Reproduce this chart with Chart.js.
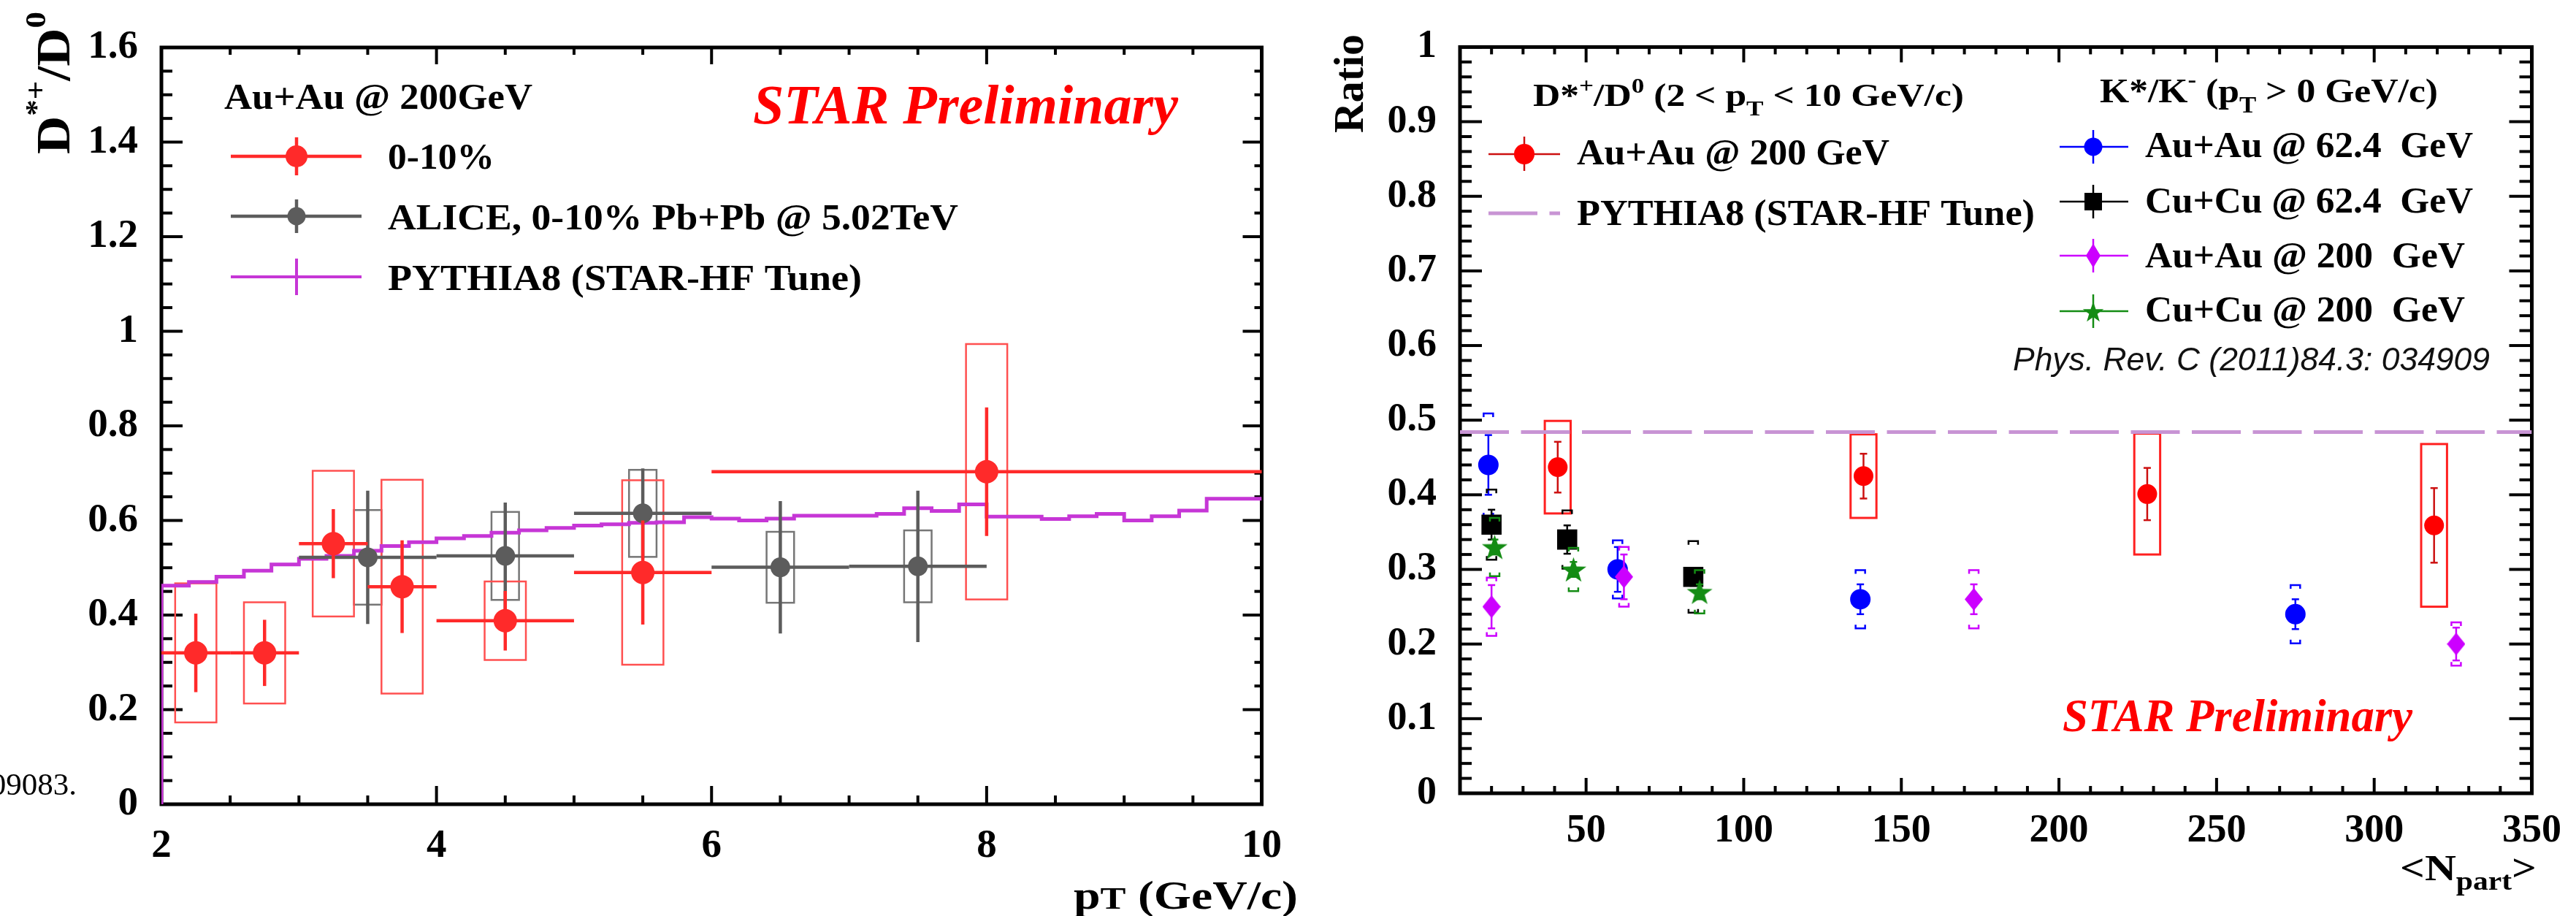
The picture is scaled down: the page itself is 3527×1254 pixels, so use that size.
<!DOCTYPE html>
<html><head><meta charset="utf-8">
<script src="https://cdn.jsdelivr.net/npm/chart.js@4.4.0/dist/chart.umd.min.js"></script>
<style>
html,body{margin:0;padding:0;background:#fff;width:3527px;height:1254px;overflow:hidden}
#left{position:absolute;left:0;top:0}
#right{position:absolute;left:1780px;top:0}
</style></head><body>
<canvas id="left" width="1780" height="1254"></canvas>
<canvas id="right" width="1747" height="1254"></canvas>
<script>
// ================= DATA : left panel (D*+/D0 vs pT) =================
const leftXTicks = [2, 4, 6, 8, 10];
const leftYTicks = [0, 0.2, 0.4, 0.6, 0.8, 1, 1.2, 1.4, 1.6];

const starPt     = [2.25, 2.75, 3.25, 3.75, 4.5, 5.5, 8.0];
const starPtLow  = [2.0, 2.5, 3.0, 3.5, 4.0, 5.0, 6.0];
const starPtHigh = [2.5, 3.0, 3.5, 4.0, 5.0, 6.0, 10.0];
const starRatio  = [0.32, 0.32, 0.551, 0.46, 0.388, 0.49, 0.703];
const starStat   = [0.083, 0.07, 0.073, 0.098, 0.063, 0.11, 0.136];
const starSys    = [0.147, 0.107, 0.154, 0.226, 0.083, 0.195, 0.27];

const alicePt     = [3.5, 4.5, 5.5, 6.5, 7.5];
const alicePtLow  = [3.0, 4.0, 5.0, 6.0, 7.0];
const alicePtHigh = [4.0, 5.0, 6.0, 7.0, 8.0];
const aliceRatio  = [0.522, 0.525, 0.615, 0.501, 0.503];
const aliceStat   = [0.141, 0.113, 0.095, 0.14, 0.16];
const aliceSys    = [0.10, 0.093, 0.092, 0.075, 0.076];

const pythiaBinEdges = [2.0, 2.2, 2.4, 2.6, 2.8, 3.0, 3.2, 3.4, 3.6, 3.8, 4.0, 4.2, 4.4, 4.6, 4.8,
  5.0, 5.2, 5.4, 5.6, 5.8, 6.0, 6.2, 6.4, 6.6, 6.8, 7.0, 7.2, 7.4, 7.6, 7.8, 8.0, 8.2, 8.4, 8.6,
  8.8, 9.0, 9.2, 9.4, 9.6, 9.8, 10.0];
const pythiaRatio = [0.449, 0.462, 0.470, 0.481, 0.494, 0.507, 0.519, 0.525, 0.536, 0.546,
  0.554, 0.562, 0.567, 0.574, 0.579, 0.584, 0.589, 0.592, 0.595, 0.596,
  0.607, 0.604, 0.600, 0.604, 0.610, 0.610, 0.610, 0.614, 0.626, 0.620,
  0.634, 0.608, 0.608, 0.603, 0.609, 0.614, 0.600, 0.609, 0.621, 0.646];

// ================= DATA : right panel (ratio vs <Npart>) =================
const rightXTicks = [50, 100, 150, 200, 250, 300, 350];
const rightYTicks = [0, 0.1, 0.2, 0.3, 0.4, 0.5, 0.6, 0.7, 0.8, 0.9, 1];

const dstarNpart = [41, 138, 228, 319];
const dstarRatio = [0.437, 0.425, 0.401, 0.359];
const dstarStat  = [0.034, 0.030, 0.035, 0.050];
const dstarSys   = [0.062, 0.056, 0.081, 0.109];

const pythiaNpartRange = [10, 350];
const pythiaFlatRatio  = [0.484, 0.484];

const auau62Npart = [19, 60, 137, 275];
const auau62Ratio = [0.44, 0.30, 0.26, 0.24];
const auau62Stat  = [0.04, 0.03, 0.02, 0.02];
const auau62Sys   = [0.069, 0.039, 0.039, 0.039];

const cucu62Npart = [20, 44, 84];
const cucu62Ratio = [0.36, 0.34, 0.29];
const cucu62Stat  = [0.02, 0.019, 0.012];
const cucu62Sys   = [0.047, 0.039, 0.048];

const auau200Npart = [20, 62, 173, 326];
const auau200Ratio = [0.25, 0.29, 0.26, 0.20];
const auau200Stat  = [0.029, 0.03, 0.02, 0.022];
const auau200Sys   = [0.039, 0.04, 0.039, 0.029];

const cucu200Npart = [21, 46, 86];
const cucu200Ratio = [0.33, 0.30, 0.27];
const cucu200Stat  = [0.01, 0.01, 0.01];
const cucu200Sys   = [0.039, 0.029, 0.029];

// ================= STYLE =================
const SERIF = "'Liberation Serif', 'Times New Roman', serif";
const SANS = "'Liberation Sans', Arial, sans-serif";
const RED_L = '#ff2a2a', RED_LBOX = '#ff5050', GRAY = '#5c5c5c', GRAY_BOX = '#767676', MAG_L = '#c636d6';
const RED_R = '#ff0000', RED_RSTAT = '#cc1010', RED_RBOX = '#ff2020';
const BLUE = '#0000ff', BLACK = '#000000', MAGENTA = '#cc00ff', GREEN = '#148c14', PYDASH = '#c894d4';

function rich(ctx, segs, o) {
  const fam = o.family || SERIF, sty = o.style || 'bold';
  ctx.save();
  ctx.translate(o.x, o.y);
  if (o.rot) ctx.rotate(o.rot);
  const widths = []; let total = 0;
  for (const sg of segs) {
    ctx.font = `${sty} ${Math.round(o.size * (sg.s || 1))}px ${fam}`;
    const w = ctx.measureText(sg.t).width; widths.push(w); total += w;
  }
  const sx = o.width ? o.width / total : 1;
  const drawn = total * sx;
  const off = o.align === 'right' ? -drawn : o.align === 'center' ? -drawn / 2 : 0;
  ctx.translate(off, 0); ctx.scale(sx, 1);
  ctx.fillStyle = o.color || '#000'; ctx.textBaseline = 'alphabetic'; ctx.textAlign = 'left';
  let cx = 0;
  segs.forEach((sg, i) => {
    ctx.font = `${sty} ${Math.round(o.size * (sg.s || 1))}px ${fam}`;
    ctx.fillText(sg.t, cx, (sg.dy || 0) * o.size);
    cx += widths[i];
  });
  ctx.restore();
}
function seg(ctx, x1, y1, x2, y2, color, lw, dash) {
  ctx.save(); ctx.strokeStyle = color; ctx.lineWidth = lw; ctx.lineCap = 'butt';
  if (dash) ctx.setLineDash(dash);
  ctx.beginPath(); ctx.moveTo(x1, y1); ctx.lineTo(x2, y2); ctx.stroke(); ctx.restore();
}
function disc(ctx, x, y, r, color) { ctx.fillStyle = color; ctx.beginPath(); ctx.arc(x, y, r, 0, Math.PI * 2); ctx.fill(); }
function starPath(ctx, cx, cy, outer, inner) {
  ctx.beginPath();
  for (let i = 0; i < 10; i++) {
    const r = i % 2 ? inner : outer, a = -Math.PI / 2 + i * Math.PI / 5;
    const px = cx + r * Math.cos(a), py = cy + r * Math.sin(a);
    if (i) ctx.lineTo(px, py); else ctx.moveTo(px, py);
  }
  ctx.closePath();
}
function diamondPath(ctx, cx, cy, w, h) {
  ctx.beginPath(); ctx.moveTo(cx, cy - h / 2); ctx.lineTo(cx + w / 2, cy); ctx.lineTo(cx, cy + h / 2); ctx.lineTo(cx - w / 2, cy); ctx.closePath();
}
function makeStarCanvas(outer, inner, color) {
  const c = document.createElement('canvas'); const s = Math.ceil(outer * 2 + 2); c.width = s; c.height = s;
  const g = c.getContext('2d'); g.fillStyle = color; starPath(g, s / 2, s / 2 + outer * 0.1, outer, inner); g.fill(); return c;
}
function makeDiamondCanvas(w, h, color) {
  const c = document.createElement('canvas'); c.width = w; c.height = h;
  const g = c.getContext('2d'); g.fillStyle = color; diamondPath(g, w / 2, h / 2, w, h); g.fill(); return c;
}
const starImg = makeStarCanvas(18.5, 7.3, GREEN);
const diamondImg = makeDiamondCanvas(25, 31, MAGENTA);

function isMajor(v, m) { return Math.abs(v / m - Math.round(v / m)) < 1e-6; }
function drawFrame(chart, t) {
  const { ctx, chartArea: a } = chart; const x = chart.scales.x, y = chart.scales.y;
  ctx.save(); ctx.strokeStyle = '#000'; ctx.lineWidth = t.tickW;
  const nx = Math.round((x.max - x.min) / t.xMinor);
  for (let k = 0; k <= nx; k++) {
    const v = x.min + k * t.xMinor, px = x.getPixelForValue(v), M = isMajor(v, t.xMajor);
    seg(ctx, px, a.bottom, px, a.bottom - (M ? t.bMaj : t.bMin), '#000', t.tickW);
    seg(ctx, px, a.top, px, a.top + (M ? t.tMaj : t.tMin), '#000', t.tickW);
  }
  const ny = Math.round((y.max - y.min) / t.yMinor);
  for (let k = 0; k <= ny; k++) {
    const v = y.min + k * t.yMinor, py = y.getPixelForValue(v), M = isMajor(v, t.yMajor);
    seg(ctx, a.left, py, a.left + (M ? t.lMaj : t.lMin), py, '#000', t.tickW);
    seg(ctx, a.right, py, a.right - (M ? t.rMaj : t.rMin), py, '#000', t.tickW);
  }
  ctx.lineWidth = t.frameW; ctx.strokeRect(a.left, a.top, a.right - a.left, a.bottom - a.top);
  ctx.restore();
}
function drawBoxes(chart, xs, ys, sys, halfW, color, lw) {
  const { ctx } = chart; const X = chart.scales.x, Y = chart.scales.y;
  ctx.save(); ctx.strokeStyle = color; ctx.lineWidth = lw;
  xs.forEach((xv, i) => {
    const x1 = X.getPixelForValue(xv - halfW), x2 = X.getPixelForValue(xv + halfW);
    const y1 = Y.getPixelForValue(ys[i] + sys[i]), y2 = Y.getPixelForValue(ys[i] - sys[i]);
    ctx.strokeRect(x1, y1, x2 - x1, y2 - y1);
  });
  ctx.restore();
}
function drawXYErr(chart, xs, lo, hi, ys, stat, color, lw) {
  const { ctx } = chart; const X = chart.scales.x, Y = chart.scales.y;
  xs.forEach((xv, i) => {
    const px = X.getPixelForValue(xv), py = Y.getPixelForValue(ys[i]);
    seg(ctx, X.getPixelForValue(lo[i]), py, X.getPixelForValue(hi[i]), py, color, lw);
    seg(ctx, px, Y.getPixelForValue(ys[i] + stat[i]), px, Y.getPixelForValue(ys[i] - stat[i]), color, lw);
  });
}
function drawCapErr(chart, xs, ys, stat, sys, color, lw) {
  const { ctx } = chart; const X = chart.scales.x, Y = chart.scales.y;
  xs.forEach((xv, i) => {
    const px = X.getPixelForValue(xv);
    const yt = Y.getPixelForValue(ys[i] + stat[i]), yb = Y.getPixelForValue(ys[i] - stat[i]);
    seg(ctx, px, yt, px, yb, color, lw);
    seg(ctx, px - 5, yt, px + 5, yt, color, lw);
    seg(ctx, px - 5, yb, px + 5, yb, color, lw);
    if (sys) {
      const st = Y.getPixelForValue(ys[i] + sys[i]), sb = Y.getPixelForValue(ys[i] - sys[i]);
      ctx.save(); ctx.strokeStyle = color; ctx.lineWidth = 2.5;
      ctx.beginPath();
      ctx.moveTo(px - 6.5, st + 5); ctx.lineTo(px - 6.5, st); ctx.lineTo(px + 6.5, st); ctx.lineTo(px + 6.5, st + 5);
      ctx.moveTo(px - 6.5, sb - 5); ctx.lineTo(px - 6.5, sb); ctx.lineTo(px + 6.5, sb); ctx.lineTo(px + 6.5, sb - 5);
      ctx.stroke(); ctx.restore();
    }
  });
}

function axisScale(min, max, vals, isX, fit, fontSize, pad) {
  return {
    type: 'linear', min, max, position: isX ? 'bottom' : 'left',
    afterBuildTicks: s => { s.ticks = vals.map(v => ({ value: v })); },
    afterFit: s => { if (isX) s.height = fit; else s.width = fit; },
    ticks: { callback: v => String(Math.round(v * 100) / 100), font: { family: SERIF, weight: 'bold', size: fontSize },
      color: '#000', padding: pad, maxRotation: 0, minRotation: 0, autoSkip: false },
    grid: { display: false, drawTicks: false, tickLength: 0 },
    border: { display: false }
  };
}

// ================= LEFT CHART =================
const L = { W: 1780, top: 34, bottom: 1101, left: 221, right: 1743 };
const leftFrame = { xMinor: 0.5, xMajor: 2, yMinor: 0.05, yMajor: 0.2, bMaj: 25, bMin: 12, tMaj: 23, tMin: 10,
  lMaj: 29, lMin: 15, rMaj: 26, rMin: 10, frameW: 5, tickW: 4 };

const pythiaPts = [{ x: pythiaBinEdges[0], y: 0 }]
  .concat(pythiaRatio.map((v, i) => ({ x: pythiaBinEdges[i], y: v })))
  .concat([{ x: pythiaBinEdges[pythiaBinEdges.length - 1], y: pythiaRatio[pythiaRatio.length - 1] }]);

const leftPlugin = {
  id: 'leftDeco',
  beforeDatasetsDraw(chart) {
    drawFrame(chart, leftFrame);
    drawBoxes(chart, alicePt, aliceRatio, aliceSys, 0.1, GRAY_BOX, 2.5);
    drawBoxes(chart, starPt, starRatio, starSys, 0.15, RED_LBOX, 2.5);
  },
  beforeDatasetDraw(chart, args) {
    const lab = chart.data.datasets[args.index].label;
    if (lab === 'ALICE') drawXYErr(chart, alicePt, alicePtLow, alicePtHigh, aliceRatio, aliceStat, GRAY, 4.5);
    if (lab === 'STAR') drawXYErr(chart, starPt, starPtLow, starPtHigh, starRatio, starStat, RED_L, 4.5);
  },
  afterDraw(chart) {
    const ctx = chart.ctx;
    rich(ctx, [{ t: 'Au+Au @ 200GeV' }], { x: 307, y: 149, size: 50, width: 422 });
    seg(ctx, 316, 214, 495, 214, RED_L, 4.5); seg(ctx, 406, 188, 406, 240, RED_L, 4.5); disc(ctx, 406, 214, 15, RED_L);
    rich(ctx, [{ t: '0-10%' }], { x: 531, y: 231, size: 50, width: 146 });
    seg(ctx, 316, 296, 495, 296, GRAY, 4.5); seg(ctx, 406, 273, 406, 319, GRAY, 4.5); disc(ctx, 406, 296, 12.5, GRAY);
    rich(ctx, [{ t: 'ALICE, 0-10% Pb+Pb @ 5.02TeV' }], { x: 531, y: 314, size: 50, width: 781 });
    seg(ctx, 316, 379, 495, 379, MAG_L, 4); seg(ctx, 406, 354, 406, 404, MAG_L, 4);
    rich(ctx, [{ t: 'PYTHIA8 (STAR-HF Tune)' }], { x: 531, y: 397, size: 50, width: 649 });
    rich(ctx, [{ t: 'STAR Preliminary' }], { x: 1031, y: 169, size: 76, style: 'italic bold', color: '#ff0000', width: 582 });
    rich(ctx, [{ t: 'p' }, { t: 'T', s: 0.8 }, { t: ' (GeV/c)' }], { x: 1777, y: 1244, size: 54, width: 307, align: 'right' });
    rich(ctx, [{ t: 'D' }, { t: '*+', s: 0.62, dy: -0.5 }, { t: '/D' }, { t: '0', s: 0.62, dy: -0.5 }],
      { x: 95, y: 211, size: 66, width: 195, rot: -Math.PI / 2 });
    rich(ctx, [{ t: '09083.' }], { x: 105, y: 1088, size: 43, style: 'normal', align: 'right' });
  }
};

new Chart(document.getElementById('left'), {
  type: 'scatter',
  data: { datasets: [
    { label: 'STAR', data: starPt.map((x, i) => ({ x, y: starRatio[i] })), pointStyle: 'circle', pointRadius: 16,
      pointBackgroundColor: RED_L, pointBorderWidth: 0, order: 1 },
    { label: 'ALICE', data: alicePt.map((x, i) => ({ x, y: aliceRatio[i] })), pointStyle: 'circle', pointRadius: 13.5,
      pointBackgroundColor: GRAY, pointBorderWidth: 0, order: 2 },
    { type: 'line', label: 'PYTHIA8', data: pythiaPts, stepped: 'after', borderColor: MAG_L, borderWidth: 5,
      pointRadius: 0, fill: false, order: 3 }
  ] },
  options: {
    responsive: false, animation: false, devicePixelRatio: 1, events: [],
    layout: { padding: { left: 0, right: L.W - L.right, top: L.top, bottom: 0 } },
    plugins: { legend: { display: false }, tooltip: { enabled: false } },
    scales: {
      x: axisScale(2, 10, leftXTicks, true, 1254 - L.bottom, 55, 25),
      y: axisScale(0, 1.6, leftYTicks, false, L.left, 55, 32)
    }
  },
  plugins: [leftPlugin]
});

// ================= RIGHT CHART =================
const R = { W: 1747, top: 47, bottom: 1086, left: 219, right: 1695 };
const rightFrame = { xMinor: 10, xMajor: 50, yMinor: 0.02, yMajor: 0.1, bMaj: 21, bMin: 10, tMaj: 21, tMin: 10,
  lMaj: 30, lMin: 16, rMaj: 31, rMin: 17, frameW: 5, tickW: 4 };

const rightPlugin = {
  id: 'rightDeco',
  beforeDatasetsDraw(chart) {
    drawFrame(chart, rightFrame);
    drawBoxes(chart, dstarNpart, dstarRatio, dstarSys, 4.1, RED_RBOX, 3);
  },
  beforeDatasetDraw(chart, args) {
    const lab = chart.data.datasets[args.index].label;
    if (lab === 'AuAu62') drawCapErr(chart, auau62Npart, auau62Ratio, auau62Stat, auau62Sys, BLUE, 2.5);
    if (lab === 'CuCu62') drawCapErr(chart, cucu62Npart, cucu62Ratio, cucu62Stat, cucu62Sys, BLACK, 2.5);
    if (lab === 'AuAu200') drawCapErr(chart, auau200Npart, auau200Ratio, auau200Stat, auau200Sys, MAGENTA, 2.5);
    if (lab === 'CuCu200') drawCapErr(chart, cucu200Npart, cucu200Ratio, cucu200Stat, cucu200Sys, GREEN, 2.5);
    if (lab === 'Dstar') drawCapErr(chart, dstarNpart, dstarRatio, dstarStat, null, RED_RSTAT, 2.5);
  },
  afterDraw(chart) {
    const ctx = chart.ctx;
    rich(ctx, [{ t: 'D*' }, { t: '+', s: 0.68, dy: -0.42 }, { t: '/D' }, { t: '0', s: 0.68, dy: -0.42 }, { t: ' (2 < p' },
      { t: 'T', s: 0.68, dy: 0.3 }, { t: ' < 10 GeV/c)' }], { x: 319, y: 145, size: 44, width: 590 });
    seg(ctx, 258, 211, 356, 211, RED_RSTAT, 2.5); seg(ctx, 307, 187, 307, 234, RED_RSTAT, 2.5); disc(ctx, 307, 211, 14, RED_R);
    rich(ctx, [{ t: 'Au+Au @ 200 GeV' }], { x: 379, y: 225, size: 50, width: 428 });
    seg(ctx, 258, 292, 356, 292, PYDASH, 5, [67, 16.5]);
    rich(ctx, [{ t: 'PYTHIA8 (STAR-HF Tune)' }], { x: 379, y: 308, size: 50, width: 627 });
    rich(ctx, [{ t: 'K*/K' }, { t: '-', s: 0.68, dy: -0.45 }, { t: ' (p' }, { t: 'T', s: 0.68, dy: 0.3 }, { t: ' > 0 GeV/c)' }],
      { x: 1095, y: 140, size: 46, width: 463 });
    const mx = 1086, l1 = 1040, l2 = 1134;
    seg(ctx, l1, 201, l2, 201, BLUE, 2.5); seg(ctx, mx, 178, mx, 224, BLUE, 2.5); disc(ctx, mx, 201, 12.5, BLUE);
    seg(ctx, l1, 276, l2, 276, BLACK, 2.5); seg(ctx, mx, 253, mx, 299, BLACK, 2.5); ctx.fillStyle = BLACK; ctx.fillRect(mx - 12, 276 - 12, 24, 24);
    seg(ctx, l1, 350, l2, 350, MAGENTA, 2.5); seg(ctx, mx, 327, mx, 373, MAGENTA, 2.5); ctx.fillStyle = MAGENTA; diamondPath(ctx, mx, 350, 20, 33); ctx.fill();
    seg(ctx, l1, 426, l2, 426, GREEN, 2.5); seg(ctx, mx, 403, mx, 449, GREEN, 2.5); ctx.fillStyle = GREEN; starPath(ctx, mx, 428, 15, 6); ctx.fill();
    rich(ctx, [{ t: 'Au+Au @ 62.4  GeV' }], { x: 1157, y: 215, size: 50, width: 449 });
    rich(ctx, [{ t: 'Cu+Cu @ 62.4  GeV' }], { x: 1157, y: 291, size: 50, width: 449 });
    rich(ctx, [{ t: 'Au+Au @ 200  GeV' }], { x: 1157, y: 366, size: 50, width: 438 });
    rich(ctx, [{ t: 'Cu+Cu @ 200  GeV' }], { x: 1157, y: 440, size: 50, width: 438 });
    rich(ctx, [{ t: 'Phys. Rev. C (2011)84.3: 034909' }], { x: 976, y: 507, size: 44, family: SANS, style: 'italic', width: 653, color: '#111' });
    rich(ctx, [{ t: 'STAR Preliminary' }], { x: 1044, y: 1001, size: 63, style: 'italic bold', color: '#ff0000', width: 479 });
    rich(ctx, [{ t: '<N' }, { t: 'part', s: 0.7, dy: 0.25 }, { t: '>' }], { x: 1693, y: 1205, size: 50, width: 187, align: 'right' });
    rich(ctx, [{ t: 'Ratio' }], { x: 86, y: 182, size: 58, width: 135, rot: -Math.PI / 2 });
  }
};

new Chart(document.getElementById('right'), {
  type: 'scatter',
  data: { datasets: [
    { label: 'Dstar', data: dstarNpart.map((x, i) => ({ x, y: dstarRatio[i] })), pointStyle: 'circle', pointRadius: 13.5,
      pointBackgroundColor: RED_R, pointBorderWidth: 0, order: 1 },
    { label: 'CuCu200', data: cucu200Npart.map((x, i) => ({ x, y: cucu200Ratio[i] })), pointStyle: starImg, pointRadius: 18,
      pointBorderWidth: 0, order: 2 },
    { label: 'AuAu200', data: auau200Npart.map((x, i) => ({ x, y: auau200Ratio[i] })), pointStyle: diamondImg, pointRadius: 15,
      pointBorderWidth: 0, order: 3 },
    { label: 'CuCu62', data: cucu62Npart.map((x, i) => ({ x, y: cucu62Ratio[i] })), pointStyle: 'rect', pointRadius: 19.5,
      pointBackgroundColor: BLACK, pointBorderWidth: 0, order: 4 },
    { label: 'AuAu62', data: auau62Npart.map((x, i) => ({ x, y: auau62Ratio[i] })), pointStyle: 'circle', pointRadius: 14,
      pointBackgroundColor: BLUE, pointBorderWidth: 0, order: 5 },
    { type: 'line', label: 'PYTHIA8', data: pythiaNpartRange.map((x, i) => ({ x, y: pythiaFlatRatio[i] })),
      borderColor: PYDASH, borderWidth: 5, borderDash: [67, 16.5], pointRadius: 0, fill: false, order: 10 }
  ] },
  options: {
    responsive: false, animation: false, devicePixelRatio: 1, events: [],
    layout: { padding: { left: 0, right: R.W - R.right, top: R.top, bottom: 0 } },
    plugins: { legend: { display: false }, tooltip: { enabled: false } },
    scales: {
      x: axisScale(10, 350, rightXTicks, true, 1254 - R.bottom, 54, 20),
      y: axisScale(0, 1, rightYTicks, false, R.left, 54, 32)
    }
  },
  plugins: [rightPlugin]
});
</script></body></html>
